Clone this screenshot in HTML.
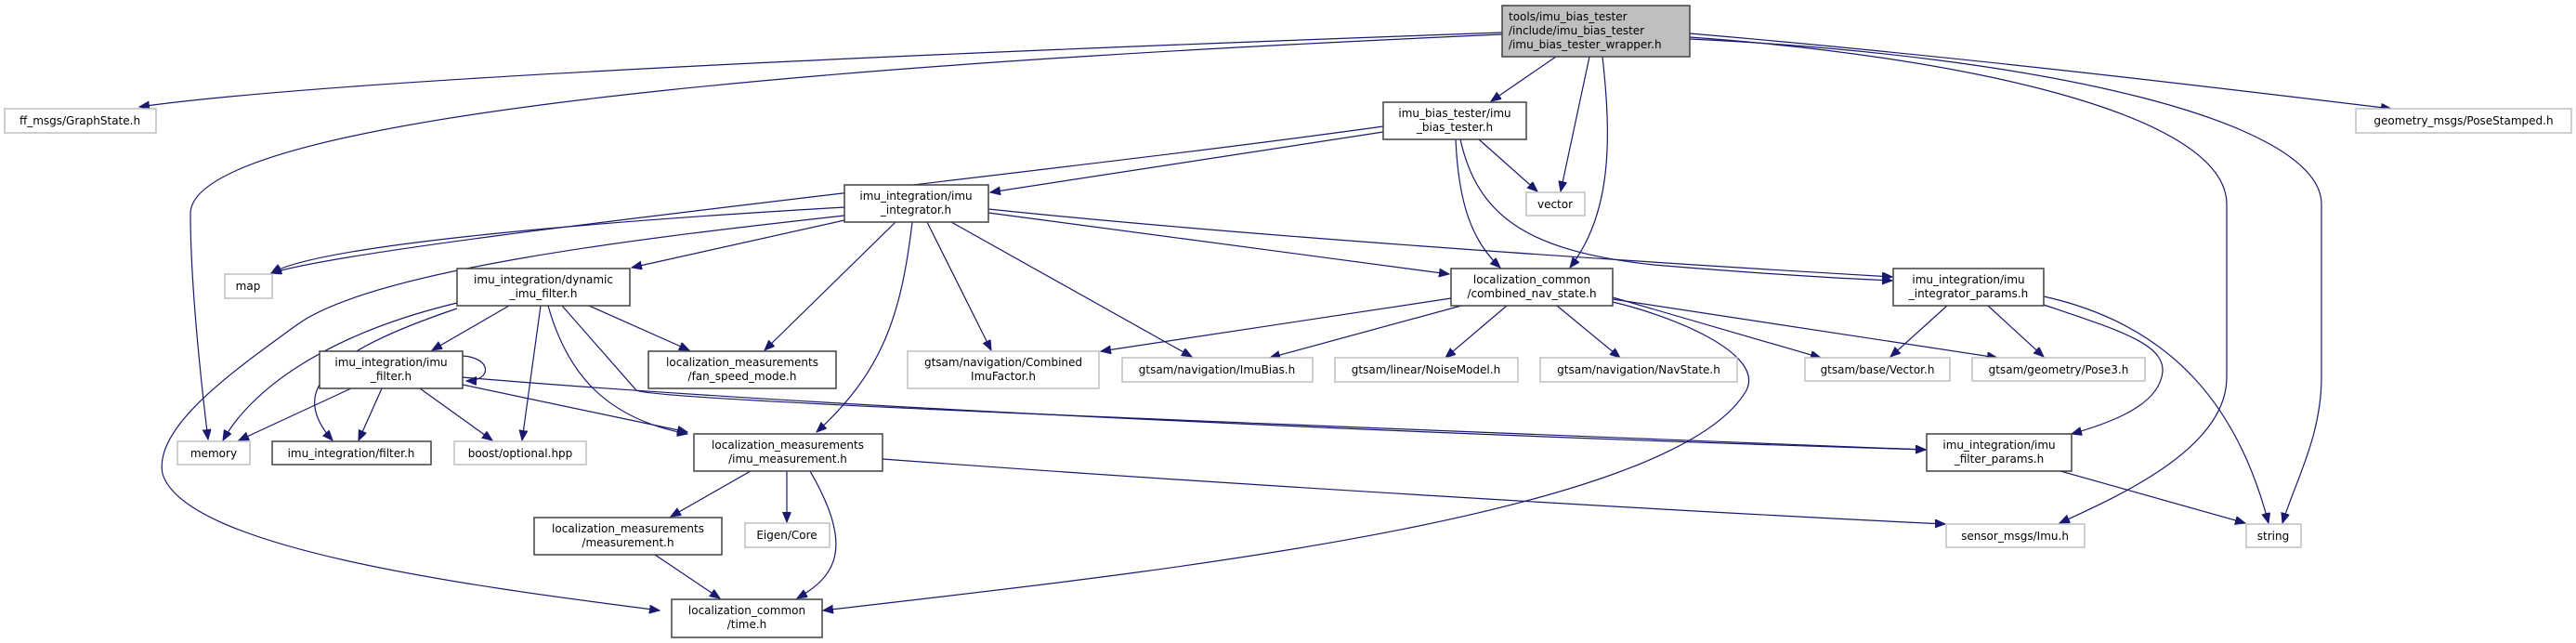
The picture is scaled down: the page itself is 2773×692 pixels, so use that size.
<!DOCTYPE html>
<html><head><meta charset="utf-8"><style>
html,body{margin:0;padding:0;background:#fff;}
svg{display:block;}
text{font-family:"DejaVu Sans","Liberation Sans",sans-serif;font-size:12px;fill:#000;}
.e{fill:none;stroke:#191970;stroke-width:1.2;}
.nb{fill:#fff;stroke:#404040;stroke-width:1.5;}
.ng{fill:#fff;stroke:#bfbfbf;stroke-width:1.5;}
</style></head><body>
<svg width="2773" height="692" viewBox="0 0 2773 692" xmlns="http://www.w3.org/2000/svg">
<defs>
<marker id="a" markerUnits="userSpaceOnUse" markerWidth="12" markerHeight="10" refX="11" refY="4.5" orient="auto">
<path d="M0,0 L11,4.5 L0,9 z" fill="#191970" stroke="#191970"/>
</marker>
</defs>
<g marker-end="url(#a)">
<path class="e" d="M1617,35 C1200,50 400,80 150,115"/>
<path class="e" d="M1617,37 C1100,60 205,110 205,230 C205,300 215,400 224,473"/>
<path class="e" d="M1675,61 L1605,109"/>
<path class="e" d="M1711,61 L1680,206"/>
<path class="e" d="M1725,61 C1735,150 1735,230 1690,288"/>
<path class="e" d="M1819,36 C2100,60 2350,90 2574,117"/>
<path class="e" d="M1819,40 C2100,60 2397,120 2397,220 L2397,406 C2397,480 2290,530 2217,563"/>
<path class="e" d="M1819,42 C2200,60 2499,130 2499,220 L2499,406 C2499,470 2470,520 2457,563"/>
<path class="e" d="M1489,136 C1100,190 400,260 292,294"/>
<path class="e" d="M1489,142 L1066,207"/>
<path class="e" d="M1592,150 L1655,206"/>
<path class="e" d="M1567,150 C1570,220 1585,260 1615,288"/>
<path class="e" d="M1572,150 C1590,230 1640,270 1780,285 C1900,295 1990,300 2037,302"/>
<path class="e" d="M909,223 C700,235 350,260 292,294"/>
<path class="e" d="M909,237 L680,288"/>
<path class="e" d="M909,232 C700,255 400,290 319,350 C250,400 165,460 175,510 C200,590 500,630 710,657"/>
<path class="e" d="M964,239 L823,377"/>
<path class="e" d="M982,239 C970,340 950,400 879,465"/>
<path class="e" d="M998,239 L1067,377"/>
<path class="e" d="M1024,239 L1283,384"/>
<path class="e" d="M1064,229 L1560,295"/>
<path class="e" d="M1064,225 C1400,260 1900,290 2037,298"/>
<path class="e" d="M1562,321 L1185,378"/>
<path class="e" d="M1573,329 L1367,385"/>
<path class="e" d="M1622,329 L1556,385"/>
<path class="e" d="M1676,329 L1744,385"/>
<path class="e" d="M1736,320 L1960,385"/>
<path class="e" d="M1736,322 L2150,385"/>
<path class="e" d="M1736,325 C1800,340 1900,380 1880,420 C1800,560 1200,620 886,657"/>
<path class="e" d="M548,329 L465,377"/>
<path class="e" d="M492,326 C350,360 270,420 240,474"/>
<path class="e" d="M492,332 C350,380 310,420 358,474"/>
<path class="e" d="M582,329 L562,474"/>
<path class="e" d="M590,329 C610,400 650,450 740,467"/>
<path class="e" d="M634,329 L742,377"/>
<path class="e" d="M605,329 L685,420 C700,430 1200,450 2073,484"/>
<path class="e" d="M498,383 C530,385 530,410 502,410"/>
<path class="e" d="M378,418 L257,474"/>
<path class="e" d="M411,418 L386,474"/>
<path class="e" d="M452,418 L530,474"/>
<path class="e" d="M498,414 L740,465"/>
<path class="e" d="M498,406 C900,440 1600,470 2073,484"/>
<path class="e" d="M808,507 L722,556"/>
<path class="e" d="M847,507 L847,562"/>
<path class="e" d="M872,507 C920,590 900,620 858,644"/>
<path class="e" d="M950,494 C1300,520 1800,550 2094,564"/>
<path class="e" d="M705,597 L775,644"/>
<path class="e" d="M2096,329 L2035,384"/>
<path class="e" d="M2140,329 L2200,384"/>
<path class="e" d="M2200,328 C2280,355 2330,370 2328,400 C2325,430 2290,450 2230,467"/>
<path class="e" d="M2200,319 C2340,350 2410,440 2442,563"/>
<path class="e" d="M2218,507 L2417,563"/>
</g>
<rect x="1617" y="6" width="202" height="55" fill="#bfbfbf" stroke="#404040" stroke-width="1.5"/>
<text x="1624" y="22">tools/imu_bias_tester</text>
<text x="1624" y="37">/include/imu_bias_tester</text>
<text x="1624" y="52">/imu_bias_tester_wrapper.h</text>

<rect class="ng" x="5" y="117" width="163" height="26"/><text x="86" y="134" text-anchor="middle">ff_msgs/GraphState.h</text>
<rect class="ng" x="2536" y="117" width="232" height="26"/><text x="2652" y="134" text-anchor="middle">geometry_msgs/PoseStamped.h</text>

<rect class="nb" x="1489" y="110" width="154" height="40"/><text x="1566" y="126" text-anchor="middle">imu_bias_tester/imu</text><text x="1566" y="141" text-anchor="middle">_bias_tester.h</text>
<rect class="ng" x="1643" y="207" width="63" height="25"/><text x="1674" y="224" text-anchor="middle">vector</text>
<rect class="nb" x="909" y="199" width="155" height="40"/><text x="986" y="215" text-anchor="middle">imu_integration/imu</text><text x="986" y="230" text-anchor="middle">_integrator.h</text>
<rect class="ng" x="242" y="295" width="51" height="26"/><text x="267" y="312" text-anchor="middle">map</text>
<rect class="nb" x="492" y="289" width="186" height="40"/><text x="585" y="305" text-anchor="middle">imu_integration/dynamic</text><text x="585" y="320" text-anchor="middle">_imu_filter.h</text>
<rect class="nb" x="1562" y="289" width="174" height="40"/><text x="1649" y="305" text-anchor="middle">localization_common</text><text x="1649" y="320" text-anchor="middle">/combined_nav_state.h</text>
<rect class="nb" x="2038" y="289" width="162" height="40"/><text x="2119" y="305" text-anchor="middle">imu_integration/imu</text><text x="2119" y="320" text-anchor="middle">_integrator_params.h</text>

<rect class="nb" x="344" y="378" width="154" height="40"/><text x="421" y="394" text-anchor="middle">imu_integration/imu</text><text x="421" y="409" text-anchor="middle">_filter.h</text>
<rect class="nb" x="698" y="378" width="202" height="40"/><text x="799" y="394" text-anchor="middle">localization_measurements</text><text x="799" y="409" text-anchor="middle">/fan_speed_mode.h</text>
<rect class="ng" x="977" y="378" width="206" height="40"/><text x="1080" y="394" text-anchor="middle">gtsam/navigation/Combined</text><text x="1080" y="409" text-anchor="middle">ImuFactor.h</text>
<rect class="ng" x="1208" y="385" width="205" height="26"/><text x="1310" y="402" text-anchor="middle">gtsam/navigation/ImuBias.h</text>
<rect class="ng" x="1437" y="385" width="197" height="26"/><text x="1535" y="402" text-anchor="middle">gtsam/linear/NoiseModel.h</text>
<rect class="ng" x="1658" y="385" width="212" height="26"/><text x="1764" y="402" text-anchor="middle">gtsam/navigation/NavState.h</text>
<rect class="ng" x="1943" y="385" width="156" height="25"/><text x="2021" y="402" text-anchor="middle">gtsam/base/Vector.h</text>
<rect class="ng" x="2123" y="385" width="186" height="25"/><text x="2216" y="402" text-anchor="middle">gtsam/geometry/Pose3.h</text>

<rect class="ng" x="191" y="475" width="78" height="25"/><text x="230" y="492" text-anchor="middle">memory</text>
<rect class="nb" x="293" y="475" width="171" height="25"/><text x="378" y="492" text-anchor="middle">imu_integration/filter.h</text>
<rect class="ng" x="489" y="475" width="142" height="25"/><text x="560" y="492" text-anchor="middle">boost/optional.hpp</text>
<rect class="nb" x="747" y="467" width="203" height="40"/><text x="848" y="483" text-anchor="middle">localization_measurements</text><text x="848" y="498" text-anchor="middle">/imu_measurement.h</text>
<rect class="nb" x="2074" y="467" width="156" height="40"/><text x="2152" y="483" text-anchor="middle">imu_integration/imu</text><text x="2152" y="498" text-anchor="middle">_filter_params.h</text>

<rect class="nb" x="575" y="557" width="202" height="40"/><text x="676" y="573" text-anchor="middle">localization_measurements</text><text x="676" y="588" text-anchor="middle">/measurement.h</text>
<rect class="ng" x="802" y="563" width="91" height="26"/><text x="847" y="580" text-anchor="middle">Eigen/Core</text>
<rect class="ng" x="2095" y="564" width="149" height="25"/><text x="2169" y="581" text-anchor="middle">sensor_msgs/Imu.h</text>
<rect class="ng" x="2418" y="564" width="59" height="25"/><text x="2447" y="581" text-anchor="middle">string</text>

<rect class="nb" x="723" y="645" width="162" height="41"/><text x="804" y="661" text-anchor="middle">localization_common</text><text x="804" y="676" text-anchor="middle">/time.h</text>
</svg>
</body></html>
